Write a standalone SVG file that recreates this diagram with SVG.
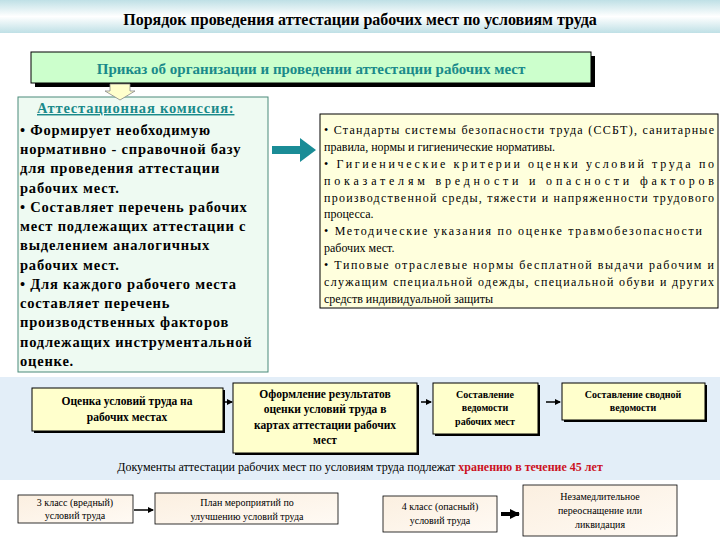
<svg xmlns="http://www.w3.org/2000/svg" width="720" height="540" viewBox="0 0 720 540">
<defs>
<linearGradient id="tg" x1="0" y1="0" x2="0" y2="1"><stop offset="0" stop-color="#bfe0e6"/><stop offset="0.5" stop-color="#ffffff"/><stop offset="1" stop-color="#bfe0e6"/></linearGradient>
<linearGradient id="bg" x1="0" y1="0" x2="1" y2="1"><stop offset="0" stop-color="#fbefe0"/><stop offset="1" stop-color="#fffaf4"/></linearGradient>
<marker id="ah" markerWidth="6" markerHeight="6" refX="5" refY="3" orient="auto" markerUnits="userSpaceOnUse"><path d="M0,0 L6,3 L0,6 z" fill="#000"/></marker>
<marker id="ah2" markerWidth="10" markerHeight="10" refX="9" refY="5" orient="auto" markerUnits="userSpaceOnUse"><path d="M0,0 L10,5 L0,10 z" fill="#000"/></marker>
</defs>
<style>
text{font-family:"Liberation Serif","Times New Roman",serif;fill:#000}
.lb{font-size:14.5px;font-weight:bold;letter-spacing:0.8px}
.r{font-size:12px}
.y{fill:#ffffcc;stroke:#000;stroke-width:1}
.sh{fill:#000}
.m{font-size:11.5px;text-anchor:middle;font-weight:bold}
.s{font-size:10px;text-anchor:middle}
.bb{fill:url(#bg);stroke:#000;stroke-width:0.8}
</style>
<rect width="720" height="540" fill="#fff"/>
<rect x="0" y="0" width="720" height="33" fill="url(#tg)"/>
<text x="360" y="25" text-anchor="middle" style="font-size:16px;font-weight:bold">Порядок проведения аттестации рабочих мест по условиям труда</text>

<g id="order">
<rect x="35" y="56" width="560" height="31" class="sh"/>
<rect x="31" y="52" width="560" height="31" fill="#ccffcc" stroke="#000" stroke-width="1"/>
<text x="311" y="74" text-anchor="middle" style="font-size:15px;font-weight:bold;fill:#1a8a8a">Приказ об организации и проведении аттестации рабочих мест</text>
</g>

<g id="commission">
<rect x="18" y="97" width="250" height="275" fill="#eefaf2" stroke="#4a8a7a" stroke-width="1"/>
<text x="37" y="113" class="lb" style="fill:#1a8a8a;text-decoration:underline">Аттестационная комиссия:</text>
<text class="lb">
<tspan x="20" y="135">•  Формирует необходимую</tspan>
<tspan x="20" y="154">нормативно - справочной базу</tspan>
<tspan x="20" y="173">для проведения аттестации</tspan>
<tspan x="20" y="193">рабочих мест.</tspan>
<tspan x="20" y="212">•  Составляет перечень рабочих</tspan>
<tspan x="20" y="231">мест подлежащих аттестации с</tspan>
<tspan x="20" y="250">выделением аналогичных</tspan>
<tspan x="20" y="270">рабочих мест.</tspan>
<tspan x="20" y="289">•  Для каждого рабочего места</tspan>
<tspan x="20" y="308">составляет перечень</tspan>
<tspan x="20" y="327">производственных факторов</tspan>
<tspan x="20" y="347">подлежащих инструментальной</tspan>
<tspan x="20" y="366">оценке.</tspan>
</text>
</g>

<g id="standards">
<rect x="320" y="114" width="398" height="194" fill="#ffffdd" stroke="#000" stroke-width="1"/>
<text class="r">
<tspan x="324" y="134" textLength="390" lengthAdjust="spacing">•  Стандарты системы безопасности труда (ССБТ), санитарные</tspan>
<tspan x="324" y="151">правила, нормы и гигиенические нормативы.</tspan>
<tspan x="324" y="168" textLength="390" lengthAdjust="spacing">• Гигиенические   критерии   оценки   условий   труда   по</tspan>
<tspan x="324" y="185" textLength="390" lengthAdjust="spacing">показателям       вредности       и       опасности       факторов</tspan>
<tspan x="324" y="202" textLength="390" lengthAdjust="spacing">производственной среды, тяжести и напряженности трудового</tspan>
<tspan x="324" y="218">процесса.</tspan>
<tspan x="324" y="235" textLength="378" lengthAdjust="spacing">•  Методические  указания  по  оценке  травмобезопасности</tspan>
<tspan x="324" y="252">рабочих  мест.</tspan>
<tspan x="324" y="269" textLength="390" lengthAdjust="spacing">•  Типовые отраслевые нормы бесплатной выдачи рабочим и</tspan>
<tspan x="324" y="286" textLength="390" lengthAdjust="spacing">служащим специальной одежды, специальной обуви и других</tspan>
<tspan x="324" y="303">средств индивидуальной защиты</tspan>
</text>
</g>

<rect x="0" y="377" width="720" height="103" fill="#e3eef8"/>

<g id="n1"><rect x="34" y="390" width="191" height="43" class="sh"/><rect x="32" y="388" width="191" height="43" class="y"/>
<text class="m" x="127" y="405">Оценка условий труда на</text><text class="m" x="127" y="421">рабочих местах</text></g>
<g id="n2"><rect x="235" y="385" width="184" height="70" class="sh"/><rect x="233" y="383" width="184" height="70" class="y"/>
<text class="m" x="325" y="398">Оформление результатов</text><text class="m" x="325" y="413">оценки условий труда в</text><text class="m" x="325" y="429">картах аттестации рабочих</text><text class="m" x="325" y="444">мест</text></g>
<g id="n3"><rect x="435" y="385" width="105" height="51" class="sh"/><rect x="433" y="383" width="105" height="51" class="y"/>
<text class="s" style="font-weight:bold" x="485" y="398">Составление</text><text class="s" style="font-weight:bold" x="485" y="411">ведомости</text><text class="s" style="font-weight:bold" x="485" y="425">рабочих мест</text></g>
<g id="n4"><rect x="564" y="385" width="143" height="37" class="sh"/><rect x="562" y="383" width="143" height="37" class="y"/>
<text class="s" style="font-weight:bold" x="633" y="398">Составление сводной</text><text class="s" style="font-weight:bold" x="633" y="411">ведомости</text></g>

<text x="360" y="471" text-anchor="middle" style="font-size:12px">Документы аттестации рабочих мест по условиям труда  подлежат <tspan style="fill:#cc1122;font-weight:bold">хранению в течение 45 лет</tspan></text>

<g id="b1"><rect x="18" y="495" width="115" height="28" class="bb"/><text class="s" x="75" y="506">3 класс (вредный)</text><text class="s" x="75" y="519">условий труда</text></g>
<g id="b2"><rect x="155" y="493" width="183" height="31" class="bb"/><text class="s" x="247" y="506">План мероприятий по</text><text class="s" x="247" y="520">улучшению условий труда</text></g>
<g id="b3"><rect x="383" y="496" width="114" height="36" class="bb"/><text class="s" x="440" y="510">4 класс (опасный)</text><text class="s" x="440" y="524">условий труда</text></g>
<g id="b4"><rect x="523" y="485" width="154" height="51" class="bb"/><text class="s" x="600" y="500">Незамедлительное</text><text class="s" x="600" y="514">переоснащение или</text><text class="s" x="600" y="528">ликвидация</text></g>

<g id="connectors">
<path d="M110,84 h20 v7 h5 l-15,9 l-15,-9 h5 z" fill="#ffffcc" stroke="#888" stroke-width="0.8"/>
<path d="M272,146 h28 v-8 l16,12 l-16,12 v-8 h-28 z" fill="#1a8c96"/>
<line x1="224" y1="402" x2="232" y2="402" stroke="#000" stroke-width="1.5" marker-end="url(#ah)"/>
<line x1="421" y1="402" x2="431" y2="402" stroke="#000" stroke-width="1.5" marker-end="url(#ah)"/>
<line x1="546" y1="402" x2="560" y2="402" stroke="#000" stroke-width="1.5" marker-end="url(#ah)"/>
<line x1="134" y1="510" x2="153" y2="510" stroke="#000" stroke-width="1.5" marker-end="url(#ah)"/>
<line x1="501" y1="514" x2="519" y2="514" stroke="#000" stroke-width="4" marker-end="url(#ah2)"/>
</g>
</svg>
